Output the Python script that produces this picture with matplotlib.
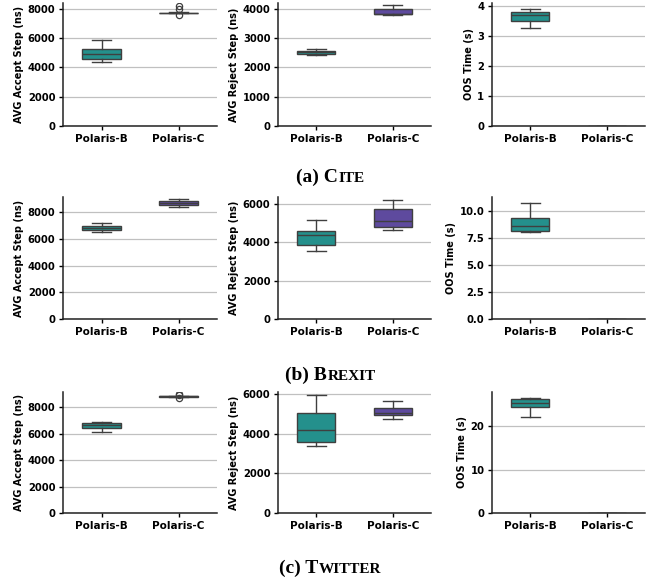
import matplotlib
matplotlib.use("Agg")
import matplotlib.pyplot as plt
from matplotlib.ticker import MultipleLocator, FormatStrFormatter

# Box-plot summaries: [whislo, q1, median, q3, whishi]
groups = ["Polaris-B", "Polaris-C"]

cite_accept = [[4380, 4550, 4920, 5280, 5860], [7680, 7700, 7720, 7740, 7760]]
cite_accept_fliers = [[], [8200, 7950, 7600]]
cite_reject = [[2411, 2457, 2514, 2560, 2617], [3783, 3806, 3829, 3989, 4103]]
cite_reject_fliers = [[], []]
cite_oos = [[3.27, 3.52, 3.69, 3.82, 3.91], [0.0, 0.0, 0.0, 0.0, 0.0]]
cite_oos_fliers = [[], []]

brexit_accept = [[6479, 6629, 6778, 6928, 7177], [8398, 8523, 8672, 8847, 8996]]
brexit_accept_fliers = [[], []]
brexit_reject = [[3564, 3843, 4367, 4577, 5153], [4664, 4804, 5118, 5747, 6236]]
brexit_reject_fliers = [[], []]
brexit_oos = [[8.07, 8.14, 8.60, 9.38, 10.78], [0.0, 0.0, 0.0, 0.0, 0.0]]
brexit_oos_fliers = [[], []]

twitter_accept = [[6147, 6401, 6680, 6807, 6883], [8800, 8820, 8840, 8860, 8880]]
twitter_accept_fliers = [[], [9020, 8950, 8720]]
twitter_reject = [[3407, 3576, 4170, 5034, 5983], [4763, 4932, 5068, 5305, 5644]]
twitter_reject_fliers = [[], []]
twitter_oos = [[22.2, 24.4, 25.3, 26.2, 26.6], [0.0, 0.0, 0.0, 0.0, 0.0]]
twitter_oos_fliers = [[], []]

ylabels = ["AVG Accept Step (ns)", "AVG Reject Step (ns)", "OOS Time (s)"]
captions = [("(a) C", "ITE"), ("(b) B", "REXIT"), ("(c) T", "WITTER")]

# y tick spacing and format per panel, as in the reference
tick_steps = [[2000, 1000, 1], [2000, 2000, 2.5], [2000, 2000, 10]]
tick_fmts = [["%d", "%d", "%d"], ["%d", "%d", "%.1f"], ["%d", "%d", "%d"]]

rows = [
    [(cite_accept, cite_accept_fliers), (cite_reject, cite_reject_fliers), (cite_oos, cite_oos_fliers)],
    [(brexit_accept, brexit_accept_fliers), (brexit_reject, brexit_reject_fliers), (brexit_oos, brexit_oos_fliers)],
    [(twitter_accept, twitter_accept_fliers), (twitter_reject, twitter_reject_fliers), (twitter_oos, twitter_oos_fliers)],
]

colors = ["#24908c", "#5e4a9e"]
line_col = "#3f3f3f"

W, H = 657, 580
col_px = [(63, 217), (278, 431), (492, 645)]
row_px = [(3, 126), (197, 319), (392, 513)]
caption_base = [182, 380, 573]

plt.rcParams["font.family"] = "DejaVu Sans"
plt.rcParams["font.weight"] = "bold"

fig = plt.figure(figsize=(W / 100, H / 100), dpi=100)


def make_stats(summary, fliers):
    out = []
    for (lo, q1, med, q3, hi), fl in zip(summary, fliers):
        out.append(dict(whislo=lo, q1=q1, med=med, q3=q3, whishi=hi, fliers=fl, label=""))
    return out


for r, row in enumerate(rows):
    top, bottom = row_px[r]
    for c, (summary, fliers) in enumerate(row):
        left, right = col_px[c]
        ax = fig.add_axes([left / W, 1 - bottom / H, (right - left) / W, (bottom - top) / H])
        bp = ax.bxp(
            make_stats(summary, fliers),
            positions=[0, 1],
            widths=0.5,
            patch_artist=True,
            boxprops=dict(edgecolor=line_col, linewidth=1.0),
            medianprops=dict(color=line_col, linewidth=1.0),
            whiskerprops=dict(color=line_col, linewidth=1.0),
            capprops=dict(color=line_col, linewidth=1.0),
            flierprops=dict(marker="o", markerfacecolor="none", markeredgecolor=line_col,
                            markersize=4.5, markeredgewidth=0.9),
            zorder=3,
        )
        for patch, col in zip(bp["boxes"], colors):
            patch.set_facecolor(col)
        ax.set_xlim(-0.5, 1.5)
        ax.relim()
        ax.autoscale_view(scalex=False)
        ax.set_ylim(bottom=0)
        ax.yaxis.set_major_locator(MultipleLocator(tick_steps[r][c]))
        ax.yaxis.set_major_formatter(FormatStrFormatter(tick_fmts[r][c]))
        ax.set_xticks([0, 1])
        ax.set_xticklabels(groups, fontsize=7.5, fontweight="bold")
        ax.tick_params(axis="y", labelsize=7.2, length=3, width=1, pad=2.5)
        ax.tick_params(axis="x", length=3, width=1, pad=3)
        for lab in ax.get_yticklabels():
            lab.set_fontweight("bold")
        ax.yaxis.grid(True, color="#c0c0c0", linewidth=0.9, zorder=0)
        ax.set_axisbelow(True)
        ax.set_ylabel(ylabels[c], fontsize=7, fontweight="bold", labelpad=2.5)
        for side in ("top", "right"):
            ax.spines[side].set_visible(False)
        for side in ("left", "bottom"):
            ax.spines[side].set_linewidth(1.1)
            ax.spines[side].set_color("#222222")

# captions in small caps: full-size first letter, smaller capitals after it
renderer = fig.canvas.get_renderer()
for r, (head, tail) in enumerate(captions):
    y = 1 - caption_base[r] / H
    t1 = fig.text(0, y, head, fontsize=14, fontweight="bold", family="Liberation Serif", va="baseline")
    t2 = fig.text(0, y, tail, fontsize=11, fontweight="bold", family="Liberation Serif", va="baseline")
    w1 = t1.get_window_extent(renderer).width
    w2 = t2.get_window_extent(renderer).width
    x0 = 330 - (w1 + w2 + 1) / 2
    t1.set_x(x0 / W)
    t2.set_x((x0 + w1 + 1) / W)

fig.savefig("out.png", dpi=100)
